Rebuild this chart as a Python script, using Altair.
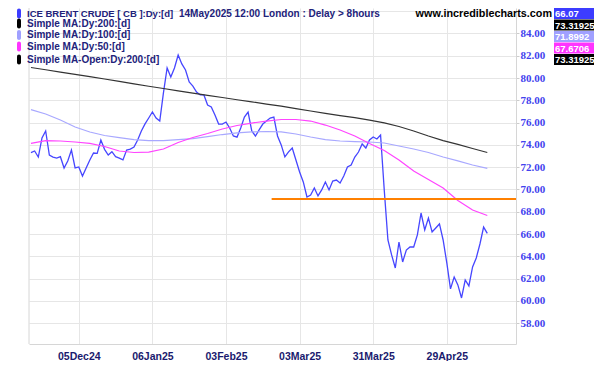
import altair as alt
import pandas as pd

# ---------------- data ----------------
bar_index = list(range(125))
price = [
    73.30, 73.45, 72.91, 74.62, 75.25, 73.09, 72.91, 72.82, 72.94, 71.93,
    72.56, 73.54, 71.93, 72.02, 71.21, 71.93, 72.65, 73.27, 73.24, 74.44,
    73.60, 73.09, 73.39, 72.94, 72.82, 72.65, 73.54, 73.63, 73.81, 74.44,
    75.25, 75.88, 76.41, 76.95, 76.41, 76.14, 78.67, 80.90, 80.09, 80.90,
    82.06, 81.26, 80.72, 79.64, 79.28, 78.74, 78.48, 78.48, 77.58, 77.40,
    76.68, 75.87, 75.87, 76.05, 75.52, 74.80, 74.70, 75.52, 76.50, 76.95,
    75.25, 74.80, 75.34, 75.87, 76.14, 76.41, 76.50, 74.80, 74.00, 72.92,
    73.37, 73.72, 72.65, 71.57, 70.68, 69.33, 69.50, 70.13, 69.42, 69.96,
    70.67, 69.96, 70.76, 70.85, 70.58, 71.21, 72.02, 72.20, 72.91, 73.36,
    74.08, 73.72, 74.44, 74.71, 74.53, 74.89, 69.96, 65.47, 64.13, 62.96,
    65.29, 63.50, 64.57, 64.84, 64.84, 65.92, 67.89, 66.37, 67.44, 66.19,
    66.55, 66.91, 65.47, 63.41, 61.08, 62.15, 61.44, 60.27, 61.88, 61.35,
    63.05, 63.86, 65.11, 66.63, 66.07,
]
ma_index = list(range(0, 125, 4))
ma200 = [80.94, 80.74, 80.53, 80.32, 80.12, 79.91, 79.70, 79.48, 79.26, 79.06,
         78.85, 78.65, 78.45, 78.25, 78.05, 77.86, 77.66, 77.47, 77.26, 77.04,
         76.83, 76.63, 76.44, 76.23, 75.98, 75.65, 75.25, 74.80, 74.39, 74.04,
         73.68, 73.31925]
ma100 = [77.17, 76.77, 76.23, 75.61, 75.16, 74.84, 74.66, 74.48, 74.39, 74.39,
         74.48, 74.57, 74.75, 74.93, 75.07, 75.16, 75.20, 75.16, 74.98, 74.71,
         74.48, 74.35, 74.30, 74.26, 74.17, 73.90, 73.63, 73.32, 72.91, 72.56,
         72.20, 71.8992]
ma50 = [74.14, 74.39, 74.35, 74.26, 74.13, 73.86, 73.45, 73.32, 73.36, 73.63,
        74.22, 74.66, 75.02, 75.43, 75.74, 75.96, 76.14, 76.28, 76.28, 76.14,
        75.78, 75.34, 74.80, 74.13, 73.50, 72.64, 71.66, 70.90, 70.13, 69.01,
        68.16, 67.6706]
level_value = 69.15
level_start = 65.4

tick_positions = [13, 33, 53, 73, 93, 113]
tick_labels = ["05Dec24", "06Jan25", "03Feb25", "03Mar25", "31Mar25", "29Apr25"]
y_ticks = list(range(58, 88, 2))

legend_labels = ["ICE BRENT CRUDE [ CB ]:Dy:[d]", "Simple MA:Dy:200:[d]",
                 "Simple MA:Dy:100:[d]", "Simple MA:Dy:50:[d]",
                 "Simple MA-Open:Dy:200:[d]"]
legend_colors = ["#3c3cff", "#000000", "#a0a0ff", "#ff33ff", "#000000"]
header_extra = "14May2025 12:00 London : Delay > 8hours"
site = "www.incrediblecharts.com"
value_labels = ["66.07", "73.31925", "71.8992", "67.6706", "73.31925"]
value_colors = ["#3c3cff", "#000000", "#a0a0ff", "#ff33ff", "#000000"]

# ---------------- layout ----------------
W, H = 487, 336
XDOM = [-0.53, 131.8]
YDOM = [56.14, 86.28]
xs = alt.Scale(domain=XDOM, nice=False, zero=False)
ys = alt.Scale(domain=YDOM, nice=False, zero=False)

x_expr = " : ".join(f"datum.value == {p} ? '{l}'" for p, l in zip(tick_positions, tick_labels)) + " : ''"
y_expr = "datum.value > 85 ? '' : format(datum.value, '.2f')"

price_df = pd.DataFrame({"i": bar_index, "v": price})
ma_df = pd.DataFrame({"i": ma_index, "ma200": ma200, "ma100": ma100, "ma50": ma50})

x_axis = alt.Axis(values=tick_positions, labelExpr=x_expr, grid=True, gridColor="#e6e6e6",
                  tickSize=0, domainColor="#d6d6d6", labelFont="Liberation Sans",
                  labelFontWeight="bold", labelFontSize=10.5, labelColor="#1a1a6e",
                  labelPadding=7, title=None, labelFlush=False)
y_axis = alt.Axis(orient="right", values=y_ticks, labelExpr=y_expr, grid=True,
                  gridColor="#e6e6e6", tickSize=3, tickColor="#cccccc", domainColor="#d6d6d6",
                  labelFont="Liberation Serif", labelFontWeight="bold", labelFontSize=11,
                  labelColor="#4242ee", labelPadding=1, title=None, labelFlush=False)


def X(field):
    return alt.X(field, scale=xs, axis=x_axis)


def Y(field):
    return alt.Y(field, scale=ys, axis=y_axis)


def ma_line(col, color):
    return alt.Chart(ma_df).mark_line(color=color, strokeWidth=1.2).encode(
        x=X("i:Q"), y=Y(f"{col}:Q"))


base = alt.Chart(price_df).mark_line(color="#4646ff", strokeWidth=1.3).encode(
    x=X("i:Q"), y=Y("v:Q"))

level_df = pd.DataFrame({"x": [level_start], "x2": [XDOM[1]], "y": [level_value]})
level = alt.Chart(level_df).mark_rule(color="#ff8000", strokeWidth=2).encode(
    x=X("x:Q"), x2="x2:Q", y=Y("y:Q"))

one = pd.DataFrame({"k": [0]})
left_frame = alt.Chart(one).mark_rule(color="#d6d6d6").encode(
    x=alt.value(0), y=alt.value(0), y2=alt.value(H))

layers = [base, ma_line("ma100", "#a8a8ff"), ma_line("ma50", "#ff44ff"),
          ma_line("ma200", "#333333"), level, left_frame]

row_y = [5.5, 15.5, 27, 38.5, 51.5]
row_size = [9.5, 10, 10, 10, 10]
for lab, col, yy, fs in zip(legend_labels, legend_colors, row_y, row_size):
    layers.append(alt.Chart(one).mark_rect(color=col, cornerRadius=2).encode(
        x=alt.value(-12), x2=alt.value(-8), y=alt.value(yy - 5), y2=alt.value(yy + 5)))
    layers.append(alt.Chart(pd.DataFrame({"t": [lab]})).mark_text(
        align="left", baseline="middle", font="Liberation Sans", fontWeight="bold",
        fontSize=fs, color="#22227a").encode(x=alt.value(-2), y=alt.value(yy), text="t:N"))

layers.append(alt.Chart(pd.DataFrame({"t": [header_extra]})).mark_text(
    align="left", baseline="middle", font="Liberation Sans", fontWeight="bold",
    fontSize=10, color="#22227a").encode(x=alt.value(150), y=alt.value(5.5), text="t:N"))
layers.append(alt.Chart(pd.DataFrame({"t": [site]})).mark_text(
    align="right", baseline="middle", font="Liberation Sans", fontWeight="bold",
    fontSize=10.8, color="#000000").encode(x=alt.value(523), y=alt.value(5.5), text="t:N"))

box_top = [0, 11.5, 23, 34.5, 46]
for lab, col, top in zip(value_labels, value_colors, box_top):
    layers.append(alt.Chart(one).mark_rect(color=col).encode(
        x=alt.value(525), x2=alt.value(570), y=alt.value(top), y2=alt.value(top + 11)))
    layers.append(alt.Chart(pd.DataFrame({"t": [lab]})).mark_text(
        align="left", baseline="middle", font="Liberation Sans", fontWeight="bold",
        fontSize=9.5, color="#ffffff").encode(x=alt.value(526), y=alt.value(top + 6), text="t:N"))

chart = alt.layer(*layers).properties(
    width=W, height=H,
    autosize=alt.AutoSizeParams(type="none"),
    padding={"left": 21, "top": 0, "right": 78, "bottom": 17},
    background="white",
).configure_view(stroke=None)

chart.save("out.html", embed_options={"renderer": "svg", "actions": False})
